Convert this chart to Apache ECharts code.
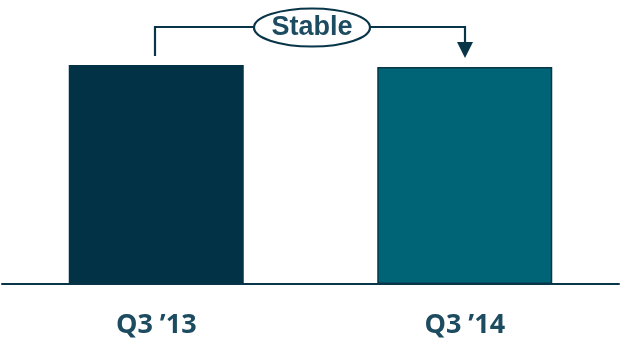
<!DOCTYPE html>
<html>
<head>
<meta charset="utf-8">
<script src="https://cdn.jsdelivr.net/npm/echarts@6/dist/echarts.min.js"></script>
<style>
  html, body { margin: 0; padding: 0; background: #fff; }
  #chart { width: 621px; height: 339px; }
</style>
</head>
<body>
<div id="chart"></div>
<script>
const categories = ['Q3 \u201913', 'Q3 \u201914']
const values = [100, 99.1]
const barColors = ['#023245', '#006477']
const calloutText = 'Stable'

const chart = echarts.init(document.getElementById('chart'))
const ink = '#083548'
const textColor = '#1d4b60'

chart.setOption({
  animation: false,
  grid: { left: 2, right: 2, top: 65, bottom: 55 },
  xAxis: {
    type: 'category',
    data: categories,
    axisLine: { lineStyle: { color: ink, width: 2 } },
    axisTick: { show: false },
    axisLabel: {
      color: textColor,
      fontFamily: 'Open Sans',
      fontWeight: 'bold',
      fontSize: 27,
      verticalAlign: 'middle',
      margin: 41,
    },
  },
  yAxis: {
    type: 'value',
    min: 0,
    max: 100,
    show: false,
  },
  series: [
    {
      type: 'bar',
      barWidth: 175,
      data: values.map((v, i) => ({
        value: v,
        itemStyle: {
          color: barColors[i],
          borderColor: i === 1 ? ink : 'transparent',
          borderWidth: i === 1 ? 1.5 : 0,
        },
      })),
    },
  ],
})

// callout bracket between the two bars
const p0 = chart.convertToPixel({ gridIndex: 0 }, [0, values[0]])
const p1 = chart.convertToPixel({ gridIndex: 0 }, [1, values[1]])
const x0 = Math.round(p0[0]) - 1
const x1 = Math.round(p1[0])
const yLine = 27
const cx = 312
const rx = 58
const ry = 19

chart.setOption({
  graphic: [
    {
      type: 'polyline',
      shape: { points: [[x0, p0[1] - 9], [x0, yLine], [cx - rx, yLine]] },
      style: { stroke: ink, lineWidth: 2.2, fill: null },
    },
    {
      type: 'polyline',
      shape: { points: [[cx + rx, yLine], [x1, yLine], [x1, 44]] },
      style: { stroke: ink, lineWidth: 2.2, fill: null },
    },
    {
      type: 'polygon',
      shape: { points: [[x1 - 8, 42], [x1 + 8, 42], [x1, 58]] },
      style: { fill: ink },
    },
    {
      type: 'ellipse',
      shape: { cx: cx, cy: yLine + 0.5, rx: rx, ry: ry },
      style: { fill: '#fff', stroke: ink, lineWidth: 2.2 },
    },
    {
      type: 'text',
      x: cx,
      y: yLine + 1,
      style: {
        text: calloutText,
        fill: textColor,
        font: 'bold 27px "Liberation Sans"',
        align: 'center',
        verticalAlign: 'middle',
      },
    },
  ],
})
</script>
</body>
</html>
